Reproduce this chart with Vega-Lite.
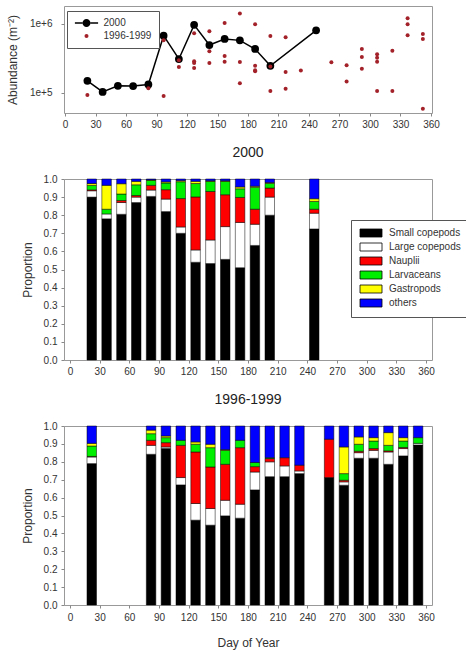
{
  "$schema": "https://vega.github.io/schema/vega-lite/v6.json",
  "padding": {"left": 5, "top": 5, "right": 0, "bottom": 1},
  "background": "white",
  "config": {
    "font": "Liberation Sans",
    "view": {"stroke": "#999999", "strokeWidth": 1},
    "axis": {"domain": false, "grid": false, "tickColor": "#888888", "tickSize": 3, "labelFontSize": 10, "labelColor": "#333333", "titleFontSize": 12, "titleFontWeight": "normal", "titleColor": "#333333", "labelFont": "Liberation Sans", "titleFont": "Liberation Sans"},
    "title": {"fontSize": 14, "fontWeight": "normal", "color": "#222222", "font": "Liberation Sans", "offset": 14},
    "legend": {"labelFont": "Liberation Sans", "labelFontSize": 10, "labelColor": "#333333"}
  },
  "datasets": {
    "abund": [
      {"series": "2000", "day": 22, "abundance": 149000},
      {"series": "2000", "day": 37, "abundance": 103000},
      {"series": "2000", "day": 52, "abundance": 126000},
      {"series": "2000", "day": 67, "abundance": 125000},
      {"series": "2000", "day": 82, "abundance": 132000},
      {"series": "2000", "day": 97, "abundance": 670000},
      {"series": "2000", "day": 112, "abundance": 308000},
      {"series": "2000", "day": 127, "abundance": 960000},
      {"series": "2000", "day": 142, "abundance": 490000},
      {"series": "2000", "day": 157, "abundance": 600000},
      {"series": "2000", "day": 172, "abundance": 573000},
      {"series": "2000", "day": 187, "abundance": 430000},
      {"series": "2000", "day": 202, "abundance": 246000},
      {"series": "2000", "day": 247, "abundance": 800000},
      {"series": "1996-1999", "day": 22, "abundance": 93000},
      {"series": "1996-1999", "day": 82, "abundance": 116000},
      {"series": "1996-1999", "day": 97, "abundance": 575000},
      {"series": "1996-1999", "day": 97, "abundance": 90000},
      {"series": "1996-1999", "day": 112, "abundance": 295000},
      {"series": "1996-1999", "day": 112, "abundance": 236000},
      {"series": "1996-1999", "day": 127, "abundance": 725000},
      {"series": "1996-1999", "day": 127, "abundance": 285000},
      {"series": "1996-1999", "day": 127, "abundance": 269000},
      {"series": "1996-1999", "day": 127, "abundance": 228000},
      {"series": "1996-1999", "day": 142, "abundance": 775000},
      {"series": "1996-1999", "day": 142, "abundance": 400000},
      {"series": "1996-1999", "day": 142, "abundance": 270000},
      {"series": "1996-1999", "day": 157, "abundance": 1020000},
      {"series": "1996-1999", "day": 157, "abundance": 340000},
      {"series": "1996-1999", "day": 157, "abundance": 280000},
      {"series": "1996-1999", "day": 172, "abundance": 1400000},
      {"series": "1996-1999", "day": 172, "abundance": 279000},
      {"series": "1996-1999", "day": 172, "abundance": 137000},
      {"series": "1996-1999", "day": 187, "abundance": 980000},
      {"series": "1996-1999", "day": 187, "abundance": 247000},
      {"series": "1996-1999", "day": 187, "abundance": 211000},
      {"series": "1996-1999", "day": 187, "abundance": 205000},
      {"series": "1996-1999", "day": 202, "abundance": 660000},
      {"series": "1996-1999", "day": 202, "abundance": 240000},
      {"series": "1996-1999", "day": 202, "abundance": 106000},
      {"series": "1996-1999", "day": 217, "abundance": 635000},
      {"series": "1996-1999", "day": 217, "abundance": 200000},
      {"series": "1996-1999", "day": 217, "abundance": 114000},
      {"series": "1996-1999", "day": 232, "abundance": 210000},
      {"series": "1996-1999", "day": 262, "abundance": 277000},
      {"series": "1996-1999", "day": 277, "abundance": 250000},
      {"series": "1996-1999", "day": 277, "abundance": 146000},
      {"series": "1996-1999", "day": 292, "abundance": 430000},
      {"series": "1996-1999", "day": 292, "abundance": 330000},
      {"series": "1996-1999", "day": 292, "abundance": 223000},
      {"series": "1996-1999", "day": 307, "abundance": 360000},
      {"series": "1996-1999", "day": 307, "abundance": 320000},
      {"series": "1996-1999", "day": 307, "abundance": 280000},
      {"series": "1996-1999", "day": 307, "abundance": 106000},
      {"series": "1996-1999", "day": 322, "abundance": 407000},
      {"series": "1996-1999", "day": 322, "abundance": 106000},
      {"series": "1996-1999", "day": 337, "abundance": 1200000},
      {"series": "1996-1999", "day": 337, "abundance": 980000},
      {"series": "1996-1999", "day": 337, "abundance": 680000},
      {"series": "1996-1999", "day": 352, "abundance": 710000},
      {"series": "1996-1999", "day": 352, "abundance": 600000},
      {"series": "1996-1999", "day": 352, "abundance": 59000}
    ],
    "bars": [
      {"period": "2000", "day": 22, "Small copepods": 0.90, "Large copepods": 0.035, "Nauplii": 0.005, "Larvaceans": 0.025, "Gastropods": 0.01, "others": 0.025},
      {"period": "2000", "day": 37, "Small copepods": 0.78, "Large copepods": 0.027, "Nauplii": 0.0, "Larvaceans": 0.026, "Gastropods": 0.132, "others": 0.035},
      {"period": "2000", "day": 52, "Small copepods": 0.805, "Large copepods": 0.065, "Nauplii": 0.011, "Larvaceans": 0.036, "Gastropods": 0.057, "others": 0.026},
      {"period": "2000", "day": 67, "Small copepods": 0.87, "Large copepods": 0.03, "Nauplii": 0.009, "Larvaceans": 0.059, "Gastropods": 0.019, "others": 0.013},
      {"period": "2000", "day": 82, "Small copepods": 0.904, "Large copepods": 0.035, "Nauplii": 0.026, "Larvaceans": 0.028, "Gastropods": 0.002, "others": 0.005},
      {"period": "2000", "day": 97, "Small copepods": 0.82, "Large copepods": 0.069, "Nauplii": 0.052, "Larvaceans": 0.037, "Gastropods": 0.006, "others": 0.016},
      {"period": "2000", "day": 112, "Small copepods": 0.70, "Large copepods": 0.035, "Nauplii": 0.157, "Larvaceans": 0.093, "Gastropods": 0.006, "others": 0.009},
      {"period": "2000", "day": 127, "Small copepods": 0.54, "Large copepods": 0.068, "Nauplii": 0.293, "Larvaceans": 0.074, "Gastropods": 0.012, "others": 0.013},
      {"period": "2000", "day": 142, "Small copepods": 0.533, "Large copepods": 0.13, "Nauplii": 0.268, "Larvaceans": 0.056, "Gastropods": 0.003, "others": 0.01},
      {"period": "2000", "day": 157, "Small copepods": 0.556, "Large copepods": 0.181, "Nauplii": 0.176, "Larvaceans": 0.074, "Gastropods": 0.003, "others": 0.01},
      {"period": "2000", "day": 172, "Small copepods": 0.51, "Large copepods": 0.25, "Nauplii": 0.138, "Larvaceans": 0.048, "Gastropods": 0.01, "others": 0.044},
      {"period": "2000", "day": 187, "Small copepods": 0.633, "Large copepods": 0.117, "Nauplii": 0.083, "Larvaceans": 0.121, "Gastropods": 0.006, "others": 0.04},
      {"period": "2000", "day": 202, "Small copepods": 0.80, "Large copepods": 0.10, "Nauplii": 0.05, "Larvaceans": 0.026, "Gastropods": 0.004, "others": 0.02},
      {"period": "2000", "day": 247, "Small copepods": 0.724, "Large copepods": 0.087, "Nauplii": 0.022, "Larvaceans": 0.043, "Gastropods": 0.015, "others": 0.109},
      {"period": "1996-1999", "day": 22, "Small copepods": 0.79, "Large copepods": 0.037, "Nauplii": 0.003, "Larvaceans": 0.058, "Gastropods": 0.015, "others": 0.097},
      {"period": "1996-1999", "day": 82, "Small copepods": 0.842, "Large copepods": 0.05, "Nauplii": 0.028, "Larvaceans": 0.037, "Gastropods": 0.02, "others": 0.023},
      {"period": "1996-1999", "day": 97, "Small copepods": 0.875, "Large copepods": 0.008, "Nauplii": 0.024, "Larvaceans": 0.028, "Gastropods": 0.009, "others": 0.056},
      {"period": "1996-1999", "day": 112, "Small copepods": 0.671, "Large copepods": 0.041, "Nauplii": 0.18, "Larvaceans": 0.028, "Gastropods": 0.0, "others": 0.08},
      {"period": "1996-1999", "day": 127, "Small copepods": 0.474, "Large copepods": 0.093, "Nauplii": 0.288, "Larvaceans": 0.043, "Gastropods": 0.013, "others": 0.089},
      {"period": "1996-1999", "day": 142, "Small copepods": 0.446, "Large copepods": 0.093, "Nauplii": 0.232, "Larvaceans": 0.108, "Gastropods": 0.019, "others": 0.102},
      {"period": "1996-1999", "day": 157, "Small copepods": 0.498, "Large copepods": 0.087, "Nauplii": 0.201, "Larvaceans": 0.078, "Gastropods": 0.004, "others": 0.132},
      {"period": "1996-1999", "day": 172, "Small copepods": 0.485, "Large copepods": 0.078, "Nauplii": 0.316, "Larvaceans": 0.041, "Gastropods": 0.0, "others": 0.08},
      {"period": "1996-1999", "day": 187, "Small copepods": 0.643, "Large copepods": 0.10, "Nauplii": 0.03, "Larvaceans": 0.023, "Gastropods": 0.0, "others": 0.204},
      {"period": "1996-1999", "day": 202, "Small copepods": 0.717, "Large copepods": 0.083, "Nauplii": 0.018, "Larvaceans": 0.005, "Gastropods": 0.0, "others": 0.177},
      {"period": "1996-1999", "day": 217, "Small copepods": 0.717, "Large copepods": 0.06, "Nauplii": 0.046, "Larvaceans": 0.0, "Gastropods": 0.0, "others": 0.177},
      {"period": "1996-1999", "day": 232, "Small copepods": 0.734, "Large copepods": 0.015, "Nauplii": 0.032, "Larvaceans": 0.0, "Gastropods": 0.0, "others": 0.219},
      {"period": "1996-1999", "day": 262, "Small copepods": 0.712, "Large copepods": 0.0, "Nauplii": 0.214, "Larvaceans": 0.0, "Gastropods": 0.0, "others": 0.074},
      {"period": "1996-1999", "day": 277, "Small copepods": 0.669, "Large copepods": 0.019, "Nauplii": 0.009, "Larvaceans": 0.037, "Gastropods": 0.149, "others": 0.117},
      {"period": "1996-1999", "day": 292, "Small copepods": 0.82, "Large copepods": 0.031, "Nauplii": 0.008, "Larvaceans": 0.039, "Gastropods": 0.041, "others": 0.061},
      {"period": "1996-1999", "day": 307, "Small copepods": 0.82, "Large copepods": 0.044, "Nauplii": 0.01, "Larvaceans": 0.042, "Gastropods": 0.019, "others": 0.065},
      {"period": "1996-1999", "day": 322, "Small copepods": 0.786, "Large copepods": 0.069, "Nauplii": 0.006, "Larvaceans": 0.031, "Gastropods": 0.071, "others": 0.037},
      {"period": "1996-1999", "day": 337, "Small copepods": 0.833, "Large copepods": 0.041, "Nauplii": 0.006, "Larvaceans": 0.036, "Gastropods": 0.019, "others": 0.065},
      {"period": "1996-1999", "day": 352, "Small copepods": 0.894, "Large copepods": 0.009, "Nauplii": 0.0, "Larvaceans": 0.032, "Gastropods": 0.0, "others": 0.065}
    ]
  },
  "vconcat": [
    {
      "width": 368,
      "height": 107,
      "data": {"name": "abund"},
      "encoding": {
        "x": {"field": "day", "type": "quantitative", "scale": {"domain": [-1, 361], "nice": false}, "axis": {"values": [0,30,60,90,120,150,180,210,240,270,300,330,360], "title": null, "labelPadding": 3}},
        "y": {"field": "abundance", "type": "quantitative", "scale": {"type": "log", "domain": [51000, 1800000], "nice": false}, "axis": {"values": [100000, 1000000], "format": ".0e", "title": "Abundance (m⁻²)", "titlePadding": 10, "labelPadding": 9}}
      },
      "layer": [
        {
          "transform": [{"filter": "false"}],
          "mark": {"type": "point", "filled": true, "opacity": 1},
          "encoding": {
            "color": {"field": "series", "type": "nominal", "scale": {"domain": ["2000", "1996-1999"], "range": ["#000000", "#a3222a"]},
              "legend": {"title": null, "orient": "none", "legendX": 3, "legendY": 5, "strokeColor": "#555555", "fillColor": "white", "padding": 7, "rowPadding": 1, "labelOffset": 12, "symbolOffset": 7.5, "symbolOpacity": 1}},
            "shape": {"field": "series", "type": "nominal", "scale": {"domain": ["2000", "1996-1999"], "range": ["M-2.9,-0.19H-0.95V0.19H-2.9Z M0.95,-0.19H2.9V0.19H0.95Z M-1,0A1,1 0 1,0 1,0A1,1 0 1,0 -1,0Z", "circle"]},
              "legend": {"title": null, "orient": "none", "legendX": 3, "legendY": 5, "strokeColor": "#555555", "fillColor": "white", "padding": 7, "rowPadding": 1, "labelOffset": 12, "symbolOffset": 7.5, "symbolOpacity": 1}},
            "size": {"field": "series", "type": "nominal", "scale": {"domain": ["2000", "1996-1999"], "range": [64, 16]},
              "legend": {"title": null, "orient": "none", "legendX": 3, "legendY": 5, "strokeColor": "#555555", "fillColor": "white", "padding": 7, "rowPadding": 1, "labelOffset": 12, "symbolOffset": 7.5, "symbolOpacity": 1}}
          }
        },
        {
          "transform": [{"filter": "datum.series == '2000'"}],
          "mark": {"type": "line", "color": "black", "strokeWidth": 1.5},
          "encoding": {}
        },
        {
          "transform": [{"filter": "datum.series == '2000'"}],
          "mark": {"type": "point", "filled": true, "opacity": 1, "color": "#000000", "size": 60},
          "encoding": {}
        },
        {
          "transform": [{"filter": "datum.series == '1996-1999'"}],
          "mark": {"type": "point", "filled": true, "opacity": 1, "color": "#a3222a", "size": 16},
          "encoding": {}
        }
      ]
    },
    {
      "width": 368,
      "height": 181,
      "title": "2000",
      "data": {"name": "bars"},
      "transform": [
        {"filter": "datum.period == '2000'"},
        {"fold": ["Small copepods", "Large copepods", "Nauplii", "Larvaceans", "Gastropods", "others"], "as": ["group", "prop"]},
        {"filter": "datum.prop > 0"},
        {"calculate": "indexof(['Small copepods', 'Large copepods', 'Nauplii', 'Larvaceans', 'Gastropods', 'others'], datum.group)", "as": "stackorder"}
      ],
      "mark": {"type": "bar", "width": 9.5, "stroke": "black", "strokeWidth": 0.5},
      "encoding": {
        "x": {"field": "day", "type": "quantitative", "scale": {"domain": [-1, 361], "nice": false}, "axis": {"values": [0,30,60,90,120,150,180,210,240,270,300,330,360], "title": null, "labelPadding": 3}},
        "y": {"field": "prop", "type": "quantitative", "stack": "zero", "scale": {"domain": [0, 1], "nice": false}, "axis": {"values": [0,0.1,0.2,0.3,0.4,0.5,0.6,0.7,0.8,0.9,1.0], "format": ".1f", "title": "Proportion", "titlePadding": 9, "labelPadding": 4}},
        "order": {"field": "stackorder", "type": "quantitative", "sort": "ascending"},
        "color": {"field": "group", "type": "nominal", "sort": ["Small copepods", "Large copepods", "Nauplii", "Larvaceans", "Gastropods", "others"],
          "scale": {"domain": ["Small copepods", "Large copepods", "Nauplii", "Larvaceans", "Gastropods", "others"], "range": ["#000000", "#ffffff", "#ff0000", "#00ee00", "#ffff00", "#0000ff"]},
          "legend": {"title": null, "orient": "none", "legendX": 287, "legendY": 41, "strokeColor": "#555555", "fillColor": "white", "padding": 8, "rowPadding": 2,
            "symbolType": "M-2.75,-1H2.75V1H-2.75Z", "symbolSize": 64, "symbolStrokeColor": "black", "symbolStrokeWidth": 0.8, "symbolOpacity": 1, "symbolOffset": 7, "labelOffset": 13}}
      }
    },
    {
      "width": 368,
      "height": 179,
      "title": "1996-1999",
      "data": {"name": "bars"},
      "transform": [
        {"filter": "datum.period == '1996-1999'"},
        {"fold": ["Small copepods", "Large copepods", "Nauplii", "Larvaceans", "Gastropods", "others"], "as": ["group", "prop"]},
        {"filter": "datum.prop > 0"},
        {"calculate": "indexof(['Small copepods', 'Large copepods', 'Nauplii', 'Larvaceans', 'Gastropods', 'others'], datum.group)", "as": "stackorder"}
      ],
      "mark": {"type": "bar", "width": 9.5, "stroke": "black", "strokeWidth": 0.5},
      "encoding": {
        "x": {"field": "day", "type": "quantitative", "scale": {"domain": [-1, 361], "nice": false}, "axis": {"values": [0,30,60,90,120,150,180,210,240,270,300,330,360], "title": "Day of Year", "labelPadding": 4, "titlePadding": 15}},
        "y": {"field": "prop", "type": "quantitative", "stack": "zero", "scale": {"domain": [0, 1], "nice": false}, "axis": {"values": [0,0.1,0.2,0.3,0.4,0.5,0.6,0.7,0.8,0.9,1.0], "format": ".1f", "title": "Proportion", "titlePadding": 9, "labelPadding": 4}},
        "order": {"field": "stackorder", "type": "quantitative", "sort": "ascending"},
        "color": {"field": "group", "type": "nominal", "sort": ["Small copepods", "Large copepods", "Nauplii", "Larvaceans", "Gastropods", "others"],
          "scale": {"domain": ["Small copepods", "Large copepods", "Nauplii", "Larvaceans", "Gastropods", "others"], "range": ["#000000", "#ffffff", "#ff0000", "#00ee00", "#ffff00", "#0000ff"]},
          "legend": null}
      }
    }
  ],
  "spacing": 15,
  "resolve": {"scale": {"color": "independent", "size": "independent", "shape": "independent"}, "legend": {"color": "independent", "size": "independent", "shape": "independent"}}
}
